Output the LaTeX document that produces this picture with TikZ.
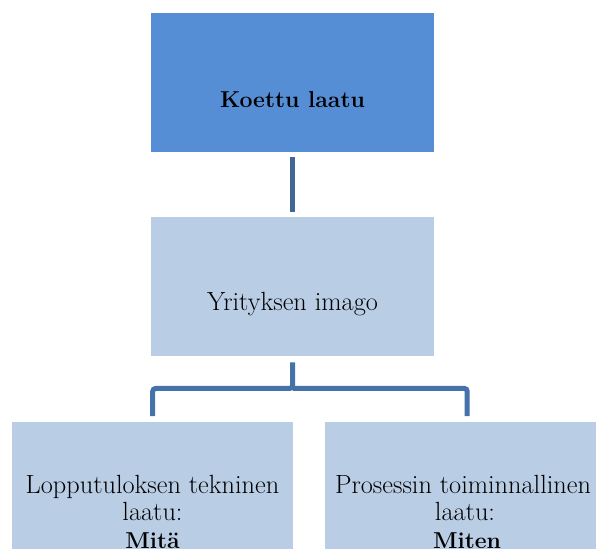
\documentclass[tikz,border=0pt]{standalone}
\usetikzlibrary{calc}
\definecolor{boxdark}{HTML}{558ED5}
\definecolor{boxlight}{HTML}{B9CDE5}
\definecolor{linkblue}{HTML}{4672AA}
\begin{document}
\begin{tikzpicture}[x=1pt,y=-1pt,
  box/.style={draw=none, inner sep=0, anchor=north west},
  label text/.style={inner sep=0, anchor=base, font=\fontsize{26.3}{30}\selectfont},
  bold text/.style={label text, font=\fontsize{23}{28}\selectfont\bfseries},
  conn/.style={draw=linkblue, line width=5pt}]
\useasboundingbox (0,0) rectangle (596,553);
% boxes
\node[box, fill=boxdark, minimum width=283pt, minimum height=139pt] (top) at (151,13) {};
\node[box, fill=boxlight, minimum width=283pt, minimum height=139pt] (mid) at (151,217) {};
\node[box, fill=boxlight, minimum width=281pt, minimum height=127pt] (left) at (12,422) {};
\node[box, fill=boxlight, minimum width=284pt, minimum height=127pt] (right) at (325,422) {};
% texts
\node[bold text] (ttop) at (292.5,108) {Koettu laatu};
\node[label text] (tmid) at (292.5,310) {Yrityksen imago};
\node[label text] (tl1) at (152.5,493) {Lopputuloksen tekninen};
\node[label text] (tl2) at (152.5,520) {laatu:};
\node[bold text] (tl3) at (152.5,548) {Mitä};
\node[label text] (tr1) at (463,493) {Prosessin toiminnallinen};
\node[label text] (tr2) at (465,520) {laatu:};
\node[bold text] (tr3) at (467,548) {Miten};
% connectors
\draw[conn, draw=linkblue!90!black, shorten <=5pt, shorten >=5pt] (top.south) -- (mid.south |- mid.north);
\coordinate (bus) at ($(mid.south)+(0,32)$);
\draw[conn, rounded corners=3pt, shorten >=6pt] ($(mid.south)+(0,6)$) -- (bus) -| (left.north);
\draw[conn, rounded corners=3pt, shorten >=6pt] (bus) -| (right.north);
\end{tikzpicture}
\end{document}
